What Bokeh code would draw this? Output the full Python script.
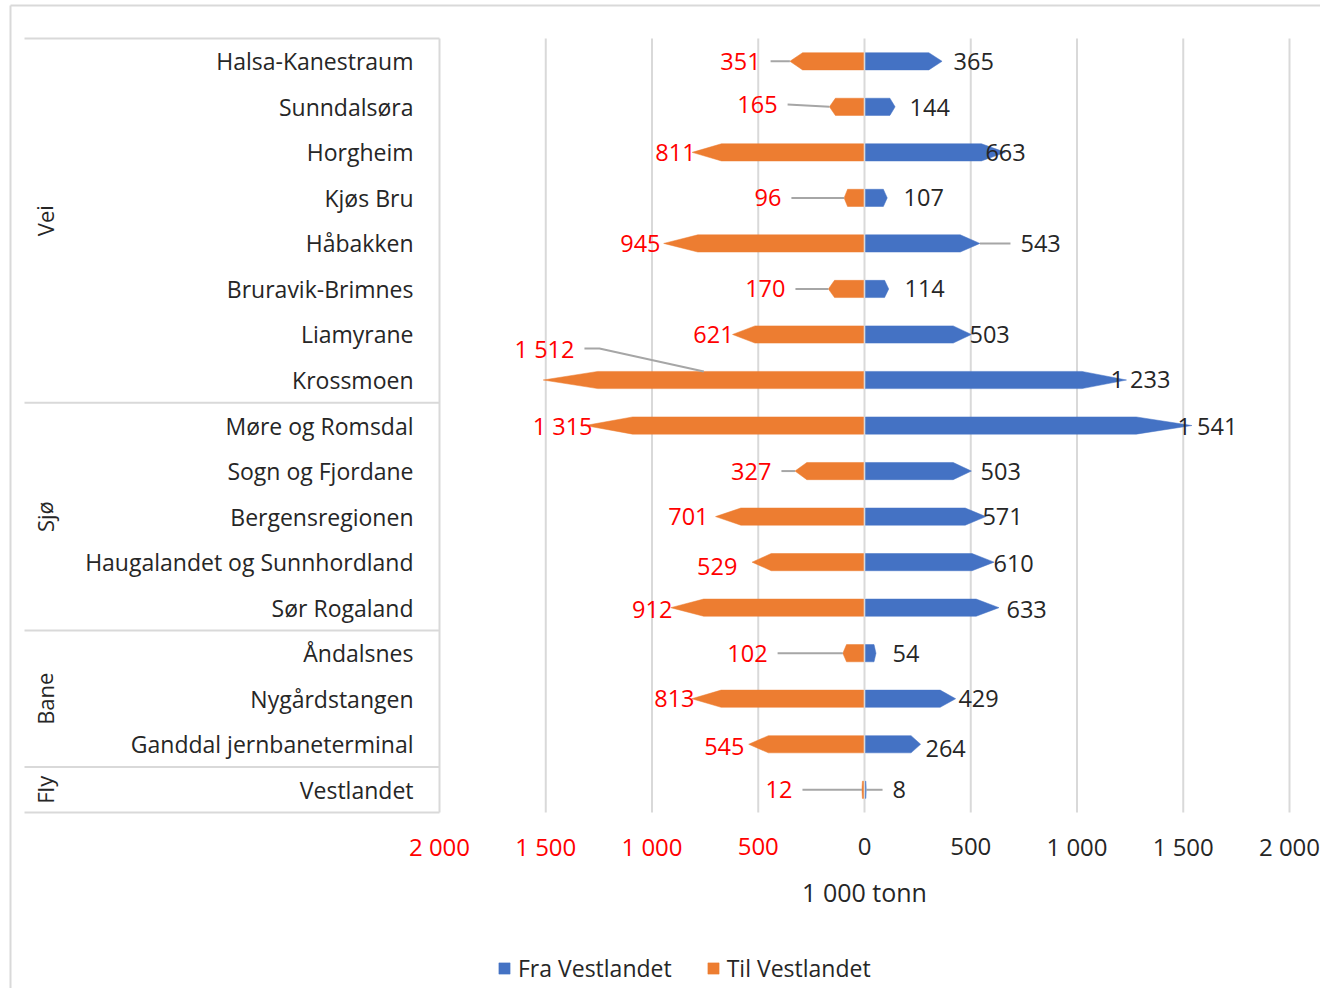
from bokeh.plotting import figure
from bokeh.models import Range1d, Legend, LegendItem
from bokeh.core.properties import value
from bokeh.embed import file_html
from bokeh.resources import INLINE

# ---------------- data ----------------
groups = ["Vei", "Sjø", "Bane", "Fly"]
group_sizes = [8, 5, 3, 1]
categories = ["Halsa-Kanestraum", "Sunndalsøra", "Horgheim", "Kjøs Bru", "Håbakken",
              "Bruravik-Brimnes", "Liamyrane", "Krossmoen", "Møre og Romsdal",
              "Sogn og Fjordane", "Bergensregionen", "Haugalandet og Sunnhordland",
              "Sør Rogaland", "Åndalsnes", "Nygårdstangen", "Ganddal jernbaneterminal",
              "Vestlandet"]
fra_vestlandet = [365, 144, 663, 107, 543, 114, 503, 1233, 1541, 503, 571, 610, 633, 54, 429, 264, 8]
til_vestlandet = [351, 165, 811, 96, 945, 170, 621, 1512, 1315, 327, 701, 529, 912, 102, 813, 545, 12]
tick_values = [-2000, -1500, -1000, -500, 0, 500, 1000, 1500, 2000]
tick_labels = ["2 000", "1 500", "1 000", "500", "0", "500", "1 000", "1 500", "2 000"]
axis_title = "1 000 tonn"

# ---------------- label layout (data units) ----------------
til_label_x = [-489, -409, -795, -391, -960, -372, -616, -1365, -1280, -438, -734, -598, -904, -456, -800, -565, -339]
til_label_dy = [0, -0.05, 0, 0, 0, 0, 0, -0.69, 0, 0, 0, 0.1, 0.04, 0, 0, 0.05, 0]
til_leader = [1, 1, 0, 1, 0, 1, 0, 2, 0, 1, 0, 0, 0, 1, 0, 0, 1]
fra_label_x = [419, 212, 569, 184, 734, 188, 494, 1158, 1473, 546, 555, 607, 668, 132, 442, 287, 132]
fra_label_dy = [0, 0.02, 0, 0, 0, 0, 0, -0.03, 0, 0, 0, 0.03, 0.04, 0, 0, 0.09, 0]
fra_leader = [0, 0, 0, 0, 1, 0, 0, 0, 0, 0, 0, 0, 0, 0, 0, 0, 1]

# ---------------- geometry ----------------
PXU = 0.2125          # px per data unit (x)
ROW = 45.53           # px per row
W, H = 1320, 988
ZX, ZY = 864, 60.8    # pixel of value 0 / first row
X0 = (0 - ZX) / PXU
X1 = X0 + W / PXU
Y_TOP = (0 - ZY) / ROW
Y_BOT = Y_TOP + H / ROW
HALF = 8.6 / ROW
GAP = 1.0 / PXU
TAPER = 0.17

def px_x(px):
    return (px - ZX) / PXU

def px_y(py):
    return (py - ZY) / ROW

def fmt(v):
    return f"{v:,}".replace(",", " ")

FONT = value("Open Sans")
TXT = "#262626"
RED = "#FF0000"
GRID = "#d9d9d9"
BLUE = "#4472C4"
ORANGE = "#ED7D31"

p = figure(width=W, height=H, x_range=Range1d(X0, X1), y_range=Range1d(Y_BOT, Y_TOP),
           x_axis_location=None, y_axis_location=None, toolbar_location=None,
           output_backend="svg", min_border=0, outline_line_color=None,
           background_fill_color="white", border_fill_color="white")
p.grid.visible = False

n = len(categories)
rows = list(range(n))

# outer chart border
p.segment(x0=[px_x(10)], y0=[px_y(5)], x1=[px_x(10)], y1=[Y_BOT],
          line_color=GRID, line_width=2)
p.segment(x0=[px_x(10)], y0=[px_y(5)], x1=[X1], y1=[px_y(5)],
          line_color=GRID, line_width=2)

# vertical gridlines
p.segment(x0=tick_values, y0=[-0.5] * len(tick_values), x1=tick_values, y1=[n - 0.5] * len(tick_values),
          line_color=GRID, line_width=2)

# category box separators
box_left = px_x(24)
bounds = [-0.5]
acc = -0.5
for s in group_sizes:
    acc += s
    bounds.append(acc)
p.segment(x0=[box_left] * len(bounds), y0=bounds, x1=[tick_values[0]] * len(bounds), y1=bounds,
          line_color=GRID, line_width=2)

# bars (arrow shaped)
def arrow(v, i, sign):
    t = TAPER * v
    xs = [sign * GAP, sign * max(v - t, GAP), sign * v, sign * max(v - t, GAP), sign * GAP]
    ys = [i - HALF, i - HALF, i, i + HALF, i + HALF]
    return xs, ys

fx, fy, tx, ty = [], [], [], []
for i in rows:
    a, b = arrow(fra_vestlandet[i], i, 1)
    fx.append(a); fy.append(b)
    a, b = arrow(til_vestlandet[i], i, -1)
    tx.append(a); ty.append(b)
r_fra = p.patches(fx, fy, fill_color=BLUE, line_color=BLUE, line_width=0.5)
r_til = p.patches(tx, ty, fill_color=ORANGE, line_color=ORANGE, line_width=0.5)

# leader lines
lx, ly = [], []
lead = 10 / PXU
for i in rows:
    v = til_vestlandet[i]
    if til_leader[i] == 1:
        lx.append([til_label_x[i] + lead, -v]); ly.append([i + til_label_dy[i], i])
    elif til_leader[i] == 2:
        yy = i + til_label_dy[i]
        lx.append([til_label_x[i] + lead, til_label_x[i] + lead + 15 / PXU, -v / 2])
        ly.append([yy, yy, i - HALF])
    if fra_leader[i]:
        v = fra_vestlandet[i]
        lx.append([fra_label_x[i] - lead, v]); ly.append([i + fra_label_dy[i], i])
p.multi_line(lx, ly, line_color="#a6a6a6", line_width=2)

# data labels
p.text(x=til_label_x, y=[i + d for i, d in zip(rows, til_label_dy)], text=[fmt(v) for v in til_vestlandet],
       text_align="right", text_baseline="middle", text_color=RED, text_font=FONT, text_font_size="23.5px")
p.text(x=fra_label_x, y=[i + d for i, d in zip(rows, fra_label_dy)], text=[fmt(v) for v in fra_vestlandet],
       text_align="left", text_baseline="middle", text_color=TXT, text_font=FONT, text_font_size="23.5px")

# category labels
cat_x = px_x(413)
p.text(x=[cat_x] * n, y=rows, text=categories, text_align="right", text_baseline="middle",
       text_color=TXT, text_font=FONT, text_font_size="23px")

# group labels (rotated)
grp_x = px_x(44)
gy = [(bounds[k] + bounds[k + 1]) / 2 for k in range(len(groups))]
p.text(x=[grp_x] * len(groups), y=gy, text=groups, angle=1.5708, text_align="center",
       text_baseline="middle", text_color=TXT, text_font=FONT, text_font_size="22px")

# tick labels
tick_y = px_y(846)
tick_colors = [RED if t < 0 else TXT for t in tick_values]
p.text(x=tick_values, y=[tick_y] * len(tick_values), text=tick_labels, text_align="center",
       text_baseline="middle", text_color=tick_colors, text_font=FONT, text_font_size="24px")

# axis title
p.text(x=[0], y=[px_y(891)], text=[axis_title], text_align="center", text_baseline="middle",
       text_color=TXT, text_font=FONT, text_font_size="25px")

legend = Legend(items=[LegendItem(label="Fra Vestlandet", renderers=[r_fra]),
                       LegendItem(label="Til Vestlandet", renderers=[r_til])],
                orientation="horizontal", location=(497, 4), padding=0, margin=0,
                spacing=34, glyph_width=14, glyph_height=14, label_standoff=7,
                label_text_font="Open Sans", label_text_font_size="23px", label_text_color=TXT,
                border_line_alpha=0, background_fill_alpha=0)
p.add_layout(legend)

open("out.html", "w").write(file_html(p, INLINE))
